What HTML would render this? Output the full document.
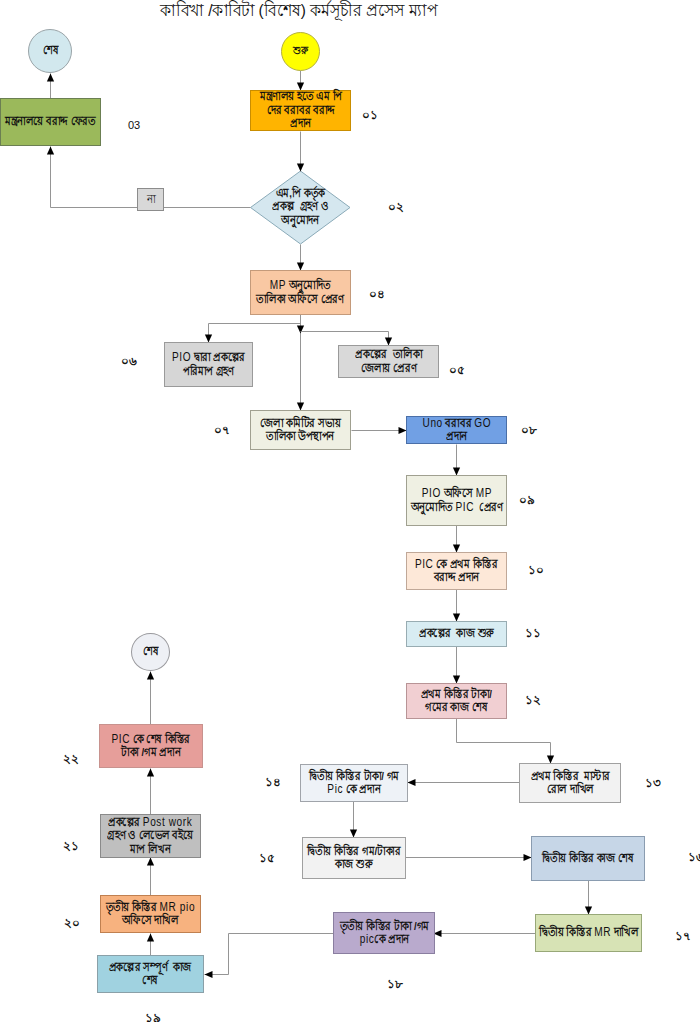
<!DOCTYPE html>
<html><head><meta charset="utf-8"><style>
html,body{margin:0;padding:0;background:#fff;}
body{width:700px;height:1022px;position:relative;overflow:hidden;font-family:"Liberation Sans",sans-serif;color:#111;}
.b{position:absolute;box-sizing:border-box;border:1px solid #999;display:flex;align-items:center;justify-content:center;text-align:center;font-size:11.5px;line-height:13.5px;white-space:nowrap;font-weight:bold;}
.ln{transform:scaleX(0.84);}
.c{position:absolute;box-sizing:border-box;border:1px solid #999;border-radius:50%;display:flex;align-items:center;justify-content:center;font-size:10px;font-weight:bold;}
.c span{display:inline-block;transform:scaleX(0.84);}
.l{position:absolute;font-size:11.5px;font-weight:bold;line-height:12px;white-space:nowrap;transform:translateY(-50%);}
.t{position:absolute;left:99px;top:-1px;width:400px;text-align:center;font-size:16.5px;line-height:22px;white-space:nowrap;transform:scaleX(0.93);}
.l3{position:absolute;left:128px;top:119px;font-size:11px;line-height:13px;}
svg{position:absolute;left:0;top:0;}
.e{font-weight:normal;font-size:12px;letter-spacing:0.7px;}
</style></head><body>
<div class="t">কাবিখা /কাবিটা (বিশেষ) কর্মসূচীর প্রসেস ম্যাপ</div>

<svg width="700" height="1022" viewBox="0 0 700 1022">
<polygon points="300.5,171 350,207.5 300.5,244 250.5,207.5" fill="#d5e7ef" stroke="#8aaab8" stroke-width="1"/>
<polyline points="300.5,70.5 300.5,90.5" fill="none" stroke="#959595" stroke-width="1"/>
<path d="M300.5 90.5 L296.9 82.5 L304.1 82.5 Z" fill="#000"/>
<polyline points="300.5,131.5 300.5,171.5" fill="none" stroke="#959595" stroke-width="1"/>
<path d="M300.5 171.5 L296.9 163.5 L304.1 163.5 Z" fill="#000"/>
<polyline points="300.5,244.5 300.5,270.5" fill="none" stroke="#959595" stroke-width="1"/>
<path d="M300.5 270.5 L296.9 262.5 L304.1 262.5 Z" fill="#000"/>
<polyline points="250.5,207.5 50.5,207.5 50.5,146.5" fill="none" stroke="#959595" stroke-width="1"/>
<path d="M50.5 146.5 L46.9 154.5 L54.1 154.5 Z" fill="#000"/>
<polyline points="50.5,98.5 50.5,73.5" fill="none" stroke="#959595" stroke-width="1"/>
<path d="M50.5 73.5 L46.9 81.5 L54.1 81.5 Z" fill="#000"/>
<polyline points="300.5,314.5 300.5,410.5" fill="none" stroke="#959595" stroke-width="1"/>
<path d="M300.5 410.5 L296.9 402.5 L304.1 402.5 Z" fill="#000"/>
<polyline points="300.5,314.5 300.5,333.5" fill="none" stroke="#959595" stroke-width="1"/>
<path d="M300.5 333.5 L296.9 325.5 L304.1 325.5 Z" fill="#000"/>
<polyline points="300.5,323.5 208.5,323.5 208.5,342.5" fill="none" stroke="#959595" stroke-width="1"/>
<path d="M208.5 342.5 L204.9 334.5 L212.1 334.5 Z" fill="#000"/>
<polyline points="300.5,331.5 388.5,331.5 388.5,345.5" fill="none" stroke="#959595" stroke-width="1"/>
<path d="M388.5 345.5 L384.9 337.5 L392.1 337.5 Z" fill="#000"/>
<polyline points="351.5,430.5 406.5,430.5" fill="none" stroke="#959595" stroke-width="1"/>
<path d="M406.5 430.5 L398.5 426.9 L398.5 434.1 Z" fill="#000"/>
<polyline points="456.5,444.5 456.5,475.5" fill="none" stroke="#959595" stroke-width="1"/>
<path d="M456.5 475.5 L452.9 467.5 L460.1 467.5 Z" fill="#000"/>
<polyline points="456.5,525.5 456.5,552.5" fill="none" stroke="#959595" stroke-width="1"/>
<path d="M456.5 552.5 L452.9 544.5 L460.1 544.5 Z" fill="#000"/>
<polyline points="456.5,589.5 456.5,621.5" fill="none" stroke="#959595" stroke-width="1"/>
<path d="M456.5 621.5 L452.9 613.5 L460.1 613.5 Z" fill="#000"/>
<polyline points="456.5,646.5 456.5,683.5" fill="none" stroke="#959595" stroke-width="1"/>
<path d="M456.5 683.5 L452.9 675.5 L460.1 675.5 Z" fill="#000"/>
<polyline points="456.5,718.5 456.5,742.5 550.5,742.5 550.5,763.5" fill="none" stroke="#959595" stroke-width="1"/>
<path d="M550.5 763.5 L546.9 755.5 L554.1 755.5 Z" fill="#000"/>
<polyline points="520.5,782.5 407.5,782.5" fill="none" stroke="#959595" stroke-width="1"/>
<path d="M407.5 782.5 L415.5 778.9 L415.5 786.1 Z" fill="#000"/>
<polyline points="353.5,801.5 353.5,837.5" fill="none" stroke="#959595" stroke-width="1"/>
<path d="M353.5 837.5 L349.9 829.5 L357.1 829.5 Z" fill="#000"/>
<polyline points="405.5,857.5 531.5,857.5" fill="none" stroke="#959595" stroke-width="1"/>
<path d="M531.5 857.5 L523.5 853.9 L523.5 861.1 Z" fill="#000"/>
<polyline points="588.5,880.5 588.5,914.5" fill="none" stroke="#959595" stroke-width="1"/>
<path d="M588.5 914.5 L584.9 906.5 L592.1 906.5 Z" fill="#000"/>
<polyline points="535.5,933.5 433.5,933.5" fill="none" stroke="#959595" stroke-width="1"/>
<path d="M433.5 933.5 L441.5 929.9 L441.5 937.1 Z" fill="#000"/>
<polyline points="333.5,933.5 228.5,933.5 228.5,974.5 204.5,974.5" fill="none" stroke="#959595" stroke-width="1"/>
<path d="M204.5 974.5 L212.5 970.9 L212.5 978.1 Z" fill="#000"/>
<polyline points="150.5,955.5 150.5,933.5" fill="none" stroke="#959595" stroke-width="1"/>
<path d="M150.5 933.5 L146.9 941.5 L154.1 941.5 Z" fill="#000"/>
<polyline points="150.5,896.5 150.5,857.5" fill="none" stroke="#959595" stroke-width="1"/>
<path d="M150.5 857.5 L146.9 865.5 L154.1 865.5 Z" fill="#000"/>
<polyline points="150.5,814.5 150.5,768.5" fill="none" stroke="#959595" stroke-width="1"/>
<path d="M150.5 768.5 L146.9 776.5 L154.1 776.5 Z" fill="#000"/>
<polyline points="150.5,724.5 150.5,671.5" fill="none" stroke="#959595" stroke-width="1"/>
<path d="M150.5 671.5 L146.9 679.5 L154.1 679.5 Z" fill="#000"/>
</svg>
<div class="b" style="left:0px;top:98px;width:101px;height:48px;background:#9bb95b;border-color:#6b7f52;"><div><div class="ln">মন্ত্রনালয়ে বরাদ্দ ফেরত</div></div></div>
<div class="b" style="left:250px;top:90px;width:101px;height:41px;background:#ffb400;border-color:#c98d00;"><div><div class="ln">মন্ত্রণালয় হতে এম পি</div><div class="ln">দের বরাবর বরাদ্দ</div><div class="ln">প্রদান</div></div></div>
<div class="b" style="left:137px;top:188px;width:27px;height:23px;background:#d8d8d8;border-color:#8c8c8c;font-weight:normal;font-size:12px;"><div><div class="ln">না</div></div></div>
<div class="b" style="left:250px;top:270px;width:101px;height:45px;background:#f9c8a3;border-color:#c49a7a;"><div><div class="ln"><span class="e">MP</span> অনুমোদিত</div><div class="ln">তালিকা অফিসে প্রেরণ</div></div></div>
<div class="b" style="left:164px;top:342px;width:89px;height:45px;background:#d6d6d6;border-color:#9a9a9a;"><div><div class="ln"><span class="e">PIO</span> দ্বারা প্রকল্পের</div><div class="ln">পরিমাপ গ্রহণ</div></div></div>
<div class="b" style="left:338px;top:345px;width:101px;height:33px;background:#d9d9d9;border-color:#9a9a9a;"><div><div class="ln">প্রকল্পের&nbsp; তালিকা</div><div class="ln">জেলায় প্রেরণ</div></div></div>
<div class="b" style="left:250px;top:410px;width:101px;height:40px;background:#eff0e3;border-color:#a0a090;"><div><div class="ln">জেলা কমিটির সভায়</div><div class="ln">তালিকা উপস্থাপন</div></div></div>
<div class="b" style="left:406px;top:416px;width:101px;height:28px;background:#71a0e4;border-color:#4a6fa8;"><div><div class="ln"><span class="e">Uno</span> বরাবর <span class="e">GO</span></div><div class="ln">প্রদান</div></div></div>
<div class="b" style="left:406px;top:475px;width:101px;height:51px;background:#eff0e3;border-color:#a0a090;"><div><div class="ln"><span class="e">PIO</span> অফিসে <span class="e">MP</span></div><div class="ln">অনুমোদিত <span class="e">PIC</span>&nbsp; প্রেরণ</div></div></div>
<div class="b" style="left:406px;top:552px;width:101px;height:38px;background:#fde8d8;border-color:#c0a898;"><div><div class="ln"><span class="e">PIC</span> কে প্রথম কিস্তির</div><div class="ln">বরাদ্দ প্রদান</div></div></div>
<div class="b" style="left:406px;top:621px;width:101px;height:26px;background:#d8ecf2;border-color:#98acb2;"><div><div class="ln">প্রকল্পের&nbsp; কাজ শুরু</div></div></div>
<div class="b" style="left:406px;top:683px;width:101px;height:36px;background:#f1cfd2;border-color:#b89496;"><div><div class="ln">প্রথম কিস্তির টাকা/</div><div class="ln">গমের কাজ শেষ</div></div></div>
<div class="b" style="left:519px;top:763px;width:102px;height:40px;background:#f2f2f2;border-color:#a0a0a0;"><div><div class="ln">প্রথম কিস্তির&nbsp; মাস্টার</div><div class="ln">রোল দাখিল</div></div></div>
<div class="b" style="left:300px;top:764px;width:108px;height:38px;background:#eef2f7;border-color:#a0a4aa;"><div><div class="ln">দ্বিতীয় কিস্তির টাকা/ গম</div><div class="ln"><span class="e">Pic</span> কে প্রদান</div></div></div>
<div class="b" style="left:302px;top:837px;width:104px;height:42px;background:#f2f2f2;border-color:#a0a0a0;"><div><div class="ln">দ্বিতীয় কিস্তির গম/টাকার</div><div class="ln">কাজ শুরু</div></div></div>
<div class="b" style="left:531px;top:836px;width:114px;height:45px;background:#c6d6e7;border-color:#8a9cb0;"><div><div class="ln">দ্বিতীয় কিস্তির কাজ শেষ</div></div></div>
<div class="b" style="left:535px;top:914px;width:107px;height:38px;background:#d7e3b5;border-color:#98a878;"><div><div class="ln">দ্বিতীয় কিস্তির <span class="e">MR</span> দাখিল</div></div></div>
<div class="b" style="left:333px;top:912px;width:102px;height:42px;background:#b9aacd;border-color:#8a7ea0;"><div><div class="ln">তৃতীয় কিস্তির টাকা /গম</div><div class="ln"><span class="e">pic</span>কে প্রদান</div></div></div>
<div class="b" style="left:97px;top:955px;width:107px;height:38px;background:#a0d2e0;border-color:#8aa0a8;"><div><div class="ln">প্রকল্পের সম্পূর্ণ&nbsp; কাজ</div><div class="ln">শেষ</div></div></div>
<div class="b" style="left:100px;top:895px;width:101px;height:38px;background:#f7b27f;border-color:#c08050;"><div><div class="ln">তৃতীয় কিস্তির <span class="e">MR pio</span></div><div class="ln">অফিসে দাখিল</div></div></div>
<div class="b" style="left:100px;top:814px;width:101px;height:44px;background:#bfbfbf;border-color:#8a8a8a;"><div><div class="ln">প্রকল্পের <span class="e">Post work</span></div><div class="ln">গ্রহণ ও লেভেল বইয়ে</div><div class="ln">মাপ লিখন</div></div></div>
<div class="b" style="left:99px;top:724px;width:104px;height:44px;background:#e69e9a;border-color:#c8928e;"><div><div class="ln"><span class="e">PIC</span> কে শেষ কিস্তির</div><div class="ln">টাকা /গম প্রদান</div></div></div>
<div class="c" style="left:28px;top:29px;width:44px;height:44px;background:#d2e8ee;border-color:#9aa4a8;font-size:11.5px;"><span>শেষ</span></div>
<div class="c" style="left:281px;top:32px;width:39px;height:39px;background:#ffff00;border-color:#b4b040;font-size:10.5px;"><span>শুরু</span></div>
<div class="c" style="left:131px;top:633px;width:39px;height:38px;background:#eef0f5;border-color:#9a9a9e;font-size:11.5px;"><span>শেষ</span></div>
<div class="b" style="left:258px;top:181px;width:84px;height:52px;border:none;background:transparent;"><div><div class="ln">এম,পি কর্তৃক</div><div class="ln">প্রকল্প&nbsp; গ্রহণ ও</div><div class="ln">অনুমোদন</div></div></div>
<div class="l3">03</div>
<div class="l" style="left:362px;top:115px;">০১</div>
<div class="l" style="left:388px;top:207px;">০২</div>
<div class="l" style="left:369px;top:294px;">০৪</div>
<div class="l" style="left:121px;top:361px;">০৬</div>
<div class="l" style="left:449px;top:370px;">০৫</div>
<div class="l" style="left:214px;top:430px;">০৭</div>
<div class="l" style="left:521px;top:430px;">০৮</div>
<div class="l" style="left:519px;top:500px;">০৯</div>
<div class="l" style="left:528px;top:570px;">১০</div>
<div class="l" style="left:525px;top:633px;">১১</div>
<div class="l" style="left:525px;top:700px;">১২</div>
<div class="l" style="left:645px;top:783px;">১৩</div>
<div class="l" style="left:265px;top:782px;">১৪</div>
<div class="l" style="left:259px;top:858px;">১৫</div>
<div class="l" style="left:688px;top:857px;">১৬</div>
<div class="l" style="left:675px;top:936px;">১৭</div>
<div class="l" style="left:387px;top:984px;">১৮</div>
<div class="l" style="left:145px;top:1018px;">১৯</div>
<div class="l" style="left:64px;top:923px;">২০</div>
<div class="l" style="left:63px;top:846px;">২১</div>
<div class="l" style="left:63px;top:759px;">২২</div>
</body></html>
